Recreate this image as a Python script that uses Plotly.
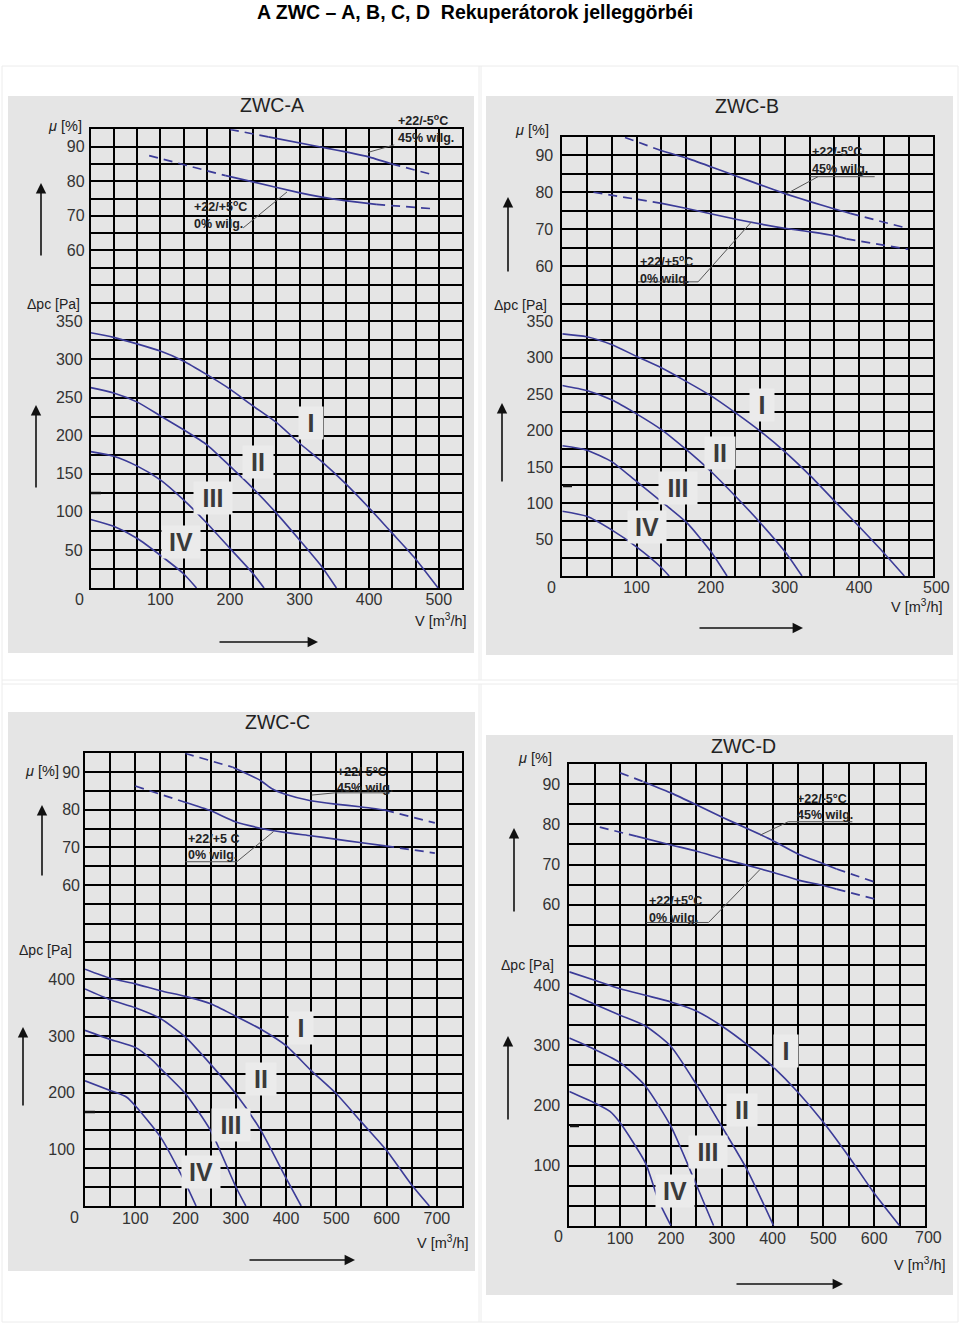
import plotly.graph_objects as go

W, H = 960, 1326

# ---------------- text ----------------
TITLE = "A ZWC – A, B, C, D  Rekuperátorok jelleggörbéi"
PANEL_NAMES = ["ZWC-A", "ZWC-B", "ZWC-C", "ZWC-D"]
ROMAN = ["I", "II", "III", "IV"]

# ---------------- tick labels ----------------
V_TICKS_AB = [100, 200, 300, 400, 500]
V_TICKS_CD = [100, 200, 300, 400, 500, 600, 700]
MU_TICKS = [60, 70, 80, 90]
P_TICKS_AB = [50, 100, 150, 200, 250, 300, 350]
P_TICKS_CD = [100, 200, 300, 400]

# ---------------- ZWC-A ----------------
A_I_V = [0, 33, 100, 133, 167, 200, 233, 267, 300, 332, 365, 398, 431, 464, 499]
A_I_P = [335, 329, 311, 298, 280, 261, 239, 217, 190, 166, 138, 107, 74, 41, 0]
A_II_V = [0, 33, 67, 100, 133, 167, 200, 233, 267, 300, 332, 353]
A_II_P = [263, 256, 244, 226, 208, 188, 160, 131, 98, 63, 28, 0]
A_III_V = [0, 33, 67, 100, 133, 167, 200, 233, 249]
A_III_P = [179, 173, 160, 142, 116, 85, 52, 19, 0]
A_IV_V = [0, 33, 67, 100, 133, 152]
A_IV_P = [90, 81, 65, 43, 19, 0]
A_E45_V = [200, 255, 332, 398, 432, 491]
A_E45_MU = [95, 92.8, 89.8, 87.1, 85, 81.9]
A_E0_V = [84, 194, 233, 299, 332, 365, 410, 494]
A_E0_MU = [87.4, 81.6, 79.8, 76.7, 75.4, 74.4, 73.3, 72]

# ---------------- ZWC-B ----------------
B_I_V = [0, 33, 67, 100, 134, 168, 200, 234, 267, 302, 335, 368, 400, 434, 461]
B_I_P = [333, 329, 318, 302, 286, 267, 248, 224, 199, 169, 137, 102, 68, 31, 0]
B_II_V = [0, 33, 67, 100, 134, 168, 200, 234, 267, 302, 323]
B_II_P = [262, 255, 242, 223, 201, 173, 144, 109, 73, 31, 0]
B_III_V = [0, 33, 67, 100, 134, 168, 200, 222]
B_III_P = [179, 173, 157, 130, 102, 73, 34, 0]
B_IV_V = [0, 33, 67, 100, 134, 144]
B_IV_P = [89, 82, 63, 40, 11, 0]
B_E45_V = [84.5, 134, 168, 200, 234, 267, 302, 335, 368, 388, 466]
B_E45_MU = [94.8, 91.2, 89.2, 86.9, 84.4, 82, 79.5, 77.4, 75.4, 74.3, 70.2]
B_E0_V = [42, 134, 168, 234, 302, 335, 368, 383, 466]
B_E0_MU = [80, 77, 75.6, 72.7, 70.2, 69.3, 68.2, 67.4, 64.6]

# ---------------- ZWC-C ----------------
C_I_V = [0, 50, 100, 150, 200, 250, 300, 350, 400, 450, 500, 550, 600, 650, 685]
C_I_P = [418, 402, 392, 380, 370, 357, 335, 312, 283, 239, 198, 148, 98, 37, 0]
C_II_V = [0, 50, 100, 150, 200, 250, 300, 350, 400, 430]
C_II_P = [383, 364, 350, 331, 298, 250, 198, 133, 49, 0]
C_III_V = [0, 50, 100, 132, 150, 200, 250, 300, 320]
C_III_P = [310, 294, 280, 259, 243, 198, 133, 34, 0]
C_IV_V = [0, 50, 83, 100, 150, 200, 221]
C_IV_P = [221, 204, 192, 177, 122, 40, 0]
C_E45_V = [199, 294, 349, 373, 397, 449, 498, 547, 597, 696]
C_E45_MU = [95, 91.3, 87.8, 85.5, 84.2, 82.4, 81.5, 80.8, 79.9, 76.5]
C_E0_V = [100, 199, 249, 299, 349, 397, 449, 498, 547, 597, 696]
C_E0_MU = [86.3, 82, 79.8, 76.8, 75.1, 74, 73.1, 72.2, 71.3, 70.4, 68.5]

# ---------------- ZWC-D ----------------
D_I_V = [0, 50, 100, 150, 200, 250, 300, 350, 400, 450, 500, 550, 600, 650]
D_I_P = [422, 408, 394, 383, 372, 357, 332, 301, 265, 222, 172, 115, 54, 0]
D_II_V = [0, 50, 100, 150, 200, 250, 300, 350, 402]
D_II_P = [387, 368, 350, 332, 298, 235, 165, 93, 0]
D_III_V = [0, 50, 100, 150, 200, 250, 284]
D_III_P = [312, 293, 271, 232, 165, 68, 0]
D_IV_V = [0, 50, 80, 100, 150, 175, 200]
D_IV_P = [223, 204, 190, 171, 104, 43, 0]
D_E45_V = [100, 146, 202, 251, 302, 351, 400, 449, 500, 526, 602]
D_E45_MU = [92.8, 90.6, 87.7, 84.8, 81.7, 78.9, 76, 72.7, 70.2, 68.9, 65.6]
D_E0_V = [60, 133, 202, 251, 302, 351, 400, 449, 500, 526, 602]
D_E0_MU = [79.3, 77, 74.8, 73.3, 71.4, 69.8, 68.1, 66.2, 64.8, 63.9, 61.4]

# ---------------- styling / layout config ----------------
FONT = "Liberation Sans, Arial, sans-serif"
CURVE = "#3b3b98"
PANEL_BG = "#e5e5e5"
LABEL_BG = "#ebebeb"
GRID_W = 1.7
TICK_SIZE = 16


def fx(px):
    return px / W


def fy(py):
    return 1 - py / H


panels = [
    dict(name=PANEL_NAMES[0], rect=(8, 96, 474, 653), xl=90.7, xr=462, yt=129.3, ym=302.3, yb=588,
         xmax=1600 / 3, xstep=100 / 3, vticks=V_TICKS_AB, mu=(45, 95), pmax=375, pstep=25, pticks=P_TICKS_AB,
         so=(1, 3, -4),
         pc=[(A_I_V, A_I_P), (A_II_V, A_II_P), (A_III_V, A_III_P), (A_IV_V, A_IV_P)],
         ec=[(A_E45_V, A_E45_MU, 1, 4), (A_E0_V, A_E0_MU, 1, 6)],
         roman=[(316, 217, 22), (241, 166, 28), (175, 118, 36), (130, 61, 36)],
         cond=[("+22/-5<sup>o</sup>C<br>45% wilg.", 439, 94.8, 1), ("+22/+5<sup>o</sup>C<br>0% wilg.", 145, 70.3, 0)],
         leaders=[(398, 88.3, 436, 90.5), (219, 66.5, 282, 76.9)],
         title=(272, 105), mu_lab=(65, 126), p_lab=(53, 304), v_lab=(441, 620),
         arr_mu=(41, 257, 183), arr_p=(36, 489, 405), arr_v=(218, 318, 642), dash=(91, 101, 493)),
    dict(name=PANEL_NAMES[1], rect=(486, 96, 953, 655), xl=562.3, xr=933.3, yt=136.7, ym=303.3, yb=576,
         xmax=500, xstep=100 / 3, vticks=V_TICKS_AB, mu=(50, 95), pmax=375, pstep=25, pticks=P_TICKS_AB,
         so=(4, 4, -4),
         pc=[(B_I_V, B_I_P), (B_II_V, B_II_P), (B_III_V, B_III_P), (B_IV_V, B_IV_P)],
         ec=[(B_E45_V, B_E45_MU, 1, 9), (B_E0_V, B_E0_MU, 1, 7)],
         roman=[(269, 235, 22), (212, 169, 28), (156, 121, 36), (114, 67, 36)],
         cond=[("+22/-5<sup>o</sup>C<br>45% wilg.", 334, 88.8, 0), ("+22/+5<sup>o</sup>C<br>0% wilg.", 102, 59.2, 0)],
         leaders=[(334, 84.2, 421, 84.2), (344.6, 84.2, 301.5, 79.5), (102, 55.8, 183, 55.8), (183, 55.8, 255, 72)],
         title=(747, 106), mu_lab=(532, 130), p_lab=(520, 305), v_lab=(917, 606),
         arr_mu=(508, 273, 197), arr_p=(502, 483, 403), arr_v=(698, 803, 628), dash=(563, 572, 486)),
    dict(name=PANEL_NAMES[2], rect=(8, 712, 475, 1271), xl=85, xr=462, yt=753.3, ym=922.7, yb=1206,
         xmax=750, xstep=50, vticks=V_TICKS_CD, mu=(50, 95), pmax=500, pstep=100 / 3, pticks=P_TICKS_CD,
         so=(0, 5, -3),
         pc=[(C_I_V, C_I_P), (C_II_V, C_II_P), (C_III_V, C_III_P), (C_IV_V, C_IV_P)],
         ec=[(C_E45_V, C_E45_MU, 1, 8), (C_E0_V, C_E0_MU, 1, 9)],
         roman=[(429, 315, 22), (350, 224, 28), (291, 143, 36), (231, 60, 36)],
         cond=[("+22/-5°C<br>45% wilg.", 497, 87.9, 0), ("+22/+5 C<br>0% wilg.", 200, 70.2, 0)],
         leaders=[(497, 84.5, 607, 84.5), (497, 84.5, 451, 83.9), (200, 66.2, 302, 66.2), (302, 66.2, 375, 74.2)],
         title=(277, 722), mu_lab=(42, 771), p_lab=(45, 950), v_lab=(443, 1242),
         arr_mu=(42, 877, 805), arr_p=(23, 1107, 1027), arr_v=(248, 355, 1260), dash=(85, 95, 1112)),
    dict(name=PANEL_NAMES[3], rect=(486, 735, 953, 1295), xl=569.3, xr=925, yt=764, ym=945, yb=1225.7,
         xmax=700, xstep=50, vticks=V_TICKS_CD, mu=(50, 95), pmax=1400 / 3, pstep=100 / 3, pticks=P_TICKS_CD,
         so=(4, 4, -3),
         pc=[(D_I_V, D_I_P), (D_II_V, D_II_P), (D_III_V, D_III_P), (D_IV_V, D_IV_P)],
         ec=[(D_E45_V, D_E45_MU, 1, 9), (D_E0_V, D_E0_MU, 1, 9)],
         roman=[(427, 290, 22), (339, 193, 28), (273, 123, 36), (208, 57, 36)],
         cond=[("+22/-5°C<br>45% wilg.", 444, 84.4, 0), ("+22/+5<sup>o</sup>C<br>0% wilg.", 152, 59.0, 0)],
         leaders=[(431, 80.65, 557, 80.65), (431, 80.65, 375.5, 77.3), (152, 55.6, 274, 55.6), (274, 55.6, 375.5, 68.8)],
         title=(743, 746), mu_lab=(535, 758), p_lab=(527, 965), v_lab=(920, 1264),
         arr_mu=(514, 913, 828), arr_p=(508, 1121, 1036), arr_v=(735, 843, 1284), dash=(570, 579, 1126)),
]


def aid(n):
    return "" if n == 1 else str(n)


def near(v, lst):
    return any(abs(v - t) < 1e-6 for t in lst)


fig = go.Figure()
shapes = []
annotations = []
layout_axes = {}


def paper_text(txt, px, py, size, color="#222"):
    annotations.append(dict(text=txt, x=fx(px), y=fy(py), xref="paper", yref="paper", showarrow=False,
                            xanchor="center", yanchor="middle",
                            font=dict(family=FONT, size=size, color=color)))


# faint table frame
for (x0, y0, x1, y1) in [(2, 66, 958, 66), (2, 680, 958, 680), (2, 684, 958, 684), (2, 1322, 958, 1322),
                         (2, 66, 2, 1322), (958, 66, 958, 1322), (479, 66, 479, 680), (481, 66, 481, 680),
                         (479, 684, 479, 1322), (481, 684, 481, 1322)]:
    shapes.append(dict(type="line", xref="paper", yref="paper", x0=fx(x0), y0=fy(y0), x1=fx(x1), y1=fy(y1),
                       line=dict(color="#ececec", width=1), layer="below"))

paper_text("<b>" + TITLE + "</b>", 475, 12, 19.5, "#000")

for k, pn in enumerate(panels):
    ne, npr = 2 * k + 1, 2 * k + 2
    xe, ye, xp, yp = "x" + aid(ne), "y" + aid(ne), "x" + aid(npr), "y" + aid(npr)

    r = pn["rect"]
    shapes.append(dict(type="rect", xref="paper", yref="paper", x0=fx(r[0]), y0=fy(r[3]), x1=fx(r[2]),
                       y1=fy(r[1]), fillcolor=PANEL_BG, line=dict(width=0), layer="below"))

    # inner grid positions (borders are drawn by the axis lines)
    nx = int(round(pn["xmax"] / pn["xstep"]))
    xgrid = [i * pn["xstep"] for i in range(1, nx)]
    xtext = [("%d" % round(v)) if near(v, pn["vticks"]) else "" for v in xgrid]
    mu0, mu1 = pn["mu"]
    mugrid = list(range(mu0 + 5, mu1, 5))
    mutext = [str(v) if v in MU_TICKS else "" for v in mugrid]
    npy = int(round(pn["pmax"] / pn["pstep"]))
    pgrid = [i * pn["pstep"] for i in range(1, npy)]
    ptext = [("%d" % round(v)) if near(v, pn["pticks"]) else "" for v in pgrid]
    so_e, so_p, so_x = pn["so"]

    common = dict(showgrid=True, gridcolor="black", gridwidth=GRID_W, showline=True,
                  linecolor="black", linewidth=GRID_W, zeroline=False, ticks="", fixedrange=True,
                  tickfont=dict(family=FONT, size=TICK_SIZE, color="#333"))
    xdom = [fx(pn["xl"]), fx(pn["xr"])]
    layout_axes["xaxis" + aid(ne)] = dict(domain=xdom, range=[0, pn["xmax"]], anchor=ye, tickmode="array",
                                          tickvals=xgrid, showticklabels=False, mirror=True, **common)
    layout_axes["yaxis" + aid(ne)] = dict(domain=[fy(pn["ym"]), fy(pn["yt"])], range=[mu0, mu1], anchor=xe,
                                          tickmode="array", tickvals=mugrid, ticktext=mutext, mirror=True,
                                          ticklabelstandoff=so_e, **common)
    layout_axes["xaxis" + aid(npr)] = dict(domain=xdom, range=[0, pn["xmax"]], anchor=yp, tickmode="array",
                                           tickvals=xgrid, ticktext=xtext, ticklabelstandoff=so_x, mirror=False,
                                           **common)
    layout_axes["yaxis" + aid(npr)] = dict(domain=[fy(pn["yb"]), fy(pn["ym"])], range=[0, pn["pmax"]],
                                           anchor=xp, tickmode="array", tickvals=pgrid, ticktext=ptext,
                                           mirror=True, ticklabelstandoff=so_p, **common)

    # pressure curves
    for (vv, pp) in pn["pc"]:
        fig.add_trace(go.Scatter(x=vv, y=pp, xaxis=xp, yaxis=yp, mode="lines", hoverinfo="skip",
                                 line=dict(color=CURVE, width=1.6, shape="spline", smoothing=0.6),
                                 showlegend=False, cliponaxis=True))
    # efficiency curves: dashed - solid - dashed
    for (vv, mm, s, e) in pn["ec"]:
        for (i0, i1, dash) in [(0, s, "9px,6px"), (s, e, "solid"), (e, len(vv) - 1, "9px,6px")]:
            fig.add_trace(go.Scatter(x=vv[i0:i1 + 1], y=mm[i0:i1 + 1], xaxis=xe, yaxis=ye, mode="lines",
                                     hoverinfo="skip", showlegend=False,
                                     line=dict(color=CURVE, width=1.7, dash=dash, shape="spline",
                                               smoothing=0.5)))

    # roman labels
    for lab, (vx, py_, w) in zip(ROMAN, pn["roman"]):
        annotations.append(dict(text="<b>" + lab + "</b>", x=vx, y=py_, xref=xp, yref=yp, showarrow=False,
                                font=dict(family=FONT, size=25, color="#3a3a3a"), bgcolor=LABEL_BG,
                                width=w, height=30, xanchor="center", yanchor="middle"))

    # condition labels
    for (txt, vx, my, ysh) in pn["cond"]:
        annotations.append(dict(text="<b>" + txt + "</b>", x=vx, y=my, xref=xe, yref=ye, showarrow=False,
                                font=dict(family=FONT, size=12.5, color="#222"), align="left",
                                xanchor="left", yanchor="middle", yshift=ysh))
    for (a0, b0, a1, b1) in pn["leaders"]:
        shapes.append(dict(type="line", xref=xe, yref=ye, x0=a0, y0=b0, x1=a1, y1=b1,
                           line=dict(color="#555", width=1)))

    # origin "0" and end-of-axis label
    annotations.append(dict(text="0", x=0, y=0, xref=xp, yref=yp, showarrow=False, xshift=-11, yshift=-11,
                            xanchor="center", yanchor="middle",
                            font=dict(family=FONT, size=TICK_SIZE, color="#333")))
    for v in pn["vticks"]:
        if abs(v - pn["xmax"]) < 1e-6:
            annotations.append(dict(text="%d" % v, x=v, y=0, xref=xp, yref=yp, showarrow=False, xshift=3,
                                    yshift=-11.5, xanchor="center", yanchor="middle",
                                    font=dict(family=FONT, size=TICK_SIZE, color="#333")))

    # titles & axis names
    paper_text(pn["name"], pn["title"][0], pn["title"][1], 19.5)
    paper_text("<i>μ</i> [%]", pn["mu_lab"][0], pn["mu_lab"][1], 14.5)
    paper_text("Δpc [Pa]", pn["p_lab"][0], pn["p_lab"][1], 14)
    paper_text("V [m<sup>3</sup>/h]", pn["v_lab"][0], pn["v_lab"][1], 14.5)

    # arrows
    for key in ("arr_mu", "arr_p"):
        ax_, y0_, y1_ = pn[key]
        annotations.append(dict(text="", x=fx(ax_), y=fy(y1_), xref="paper", yref="paper", showarrow=True,
                                ax=0, ay=y0_ - y1_, arrowhead=2, arrowsize=1.3, arrowwidth=1.6,
                                arrowcolor="#111"))
    x0_, x1_, ay_ = pn["arr_v"]
    annotations.append(dict(text="", x=fx(x1_), y=fy(ay_), xref="paper", yref="paper", showarrow=True,
                            ax=x0_ - x1_, ay=0, arrowhead=2, arrowsize=1.3, arrowwidth=1.6,
                            arrowcolor="#111"))
    # small stray tick on the grid's left edge
    d0, d1, dy = pn["dash"]
    shapes.append(dict(type="line", xref="paper", yref="paper", x0=fx(d0), y0=fy(dy), x1=fx(d1), y1=fy(dy),
                       line=dict(color="#111", width=2.5)))

fig.update_layout(width=W, height=H, autosize=False, margin=dict(l=0, r=0, t=0, b=0),
                  paper_bgcolor="white", plot_bgcolor="rgba(0,0,0,0)", showlegend=False,
                  shapes=shapes, annotations=annotations, font=dict(family=FONT), **layout_axes)

fig.write_html("out.html", config={"displayModeBar": False},
               post_script="document.body.style.margin='0px';")
